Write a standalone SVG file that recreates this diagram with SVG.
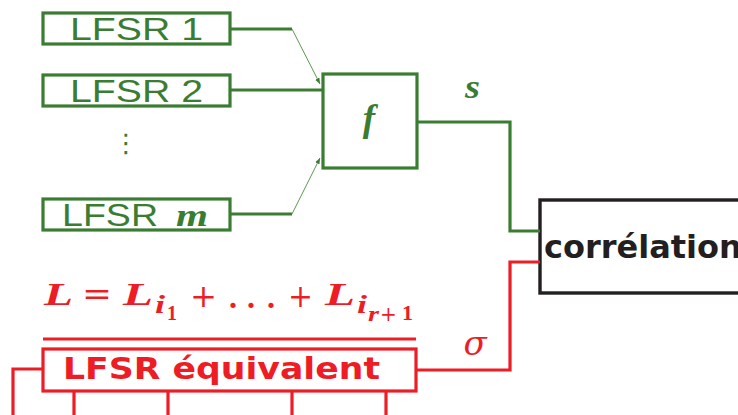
<svg xmlns="http://www.w3.org/2000/svg" width="738" height="415" viewBox="0 0 738 415">
<defs>
<style>
.g{fill:none;stroke:#3a7d32;stroke-width:3.2}
.gt{fill:none;stroke:#5a9a52;stroke-width:1}
.r{fill:none;stroke:#ee1c25;stroke-width:3.2}
.k{fill:none;stroke:#231f20;stroke-width:3.4}
.lf{font-family:"Liberation Sans",Arial,sans-serif;font-size:32px;fill:#3a7d32}
.mi{font-family:"Liberation Serif",serif;font-style:italic;font-weight:bold}
.op{font-family:"DejaVu Serif",serif;font-size:32px}
.rd{fill:#ee1c25}
</style>
<marker id="ah" viewBox="0 0 10 10" refX="10" refY="5" markerWidth="6" markerHeight="6" orient="auto" markerUnits="userSpaceOnUse">
<path d="M0,1 L10,5 L0,9 Z" fill="#3a7d32"/>
</marker>
</defs>
<rect width="738" height="415" fill="#fff"/>
<g id="lfsr1"><rect class="g" x="43" y="13" width="187" height="31"/><text class="lf" x="70" y="40" textLength="133" lengthAdjust="spacingAndGlyphs">LFSR 1</text></g>
<g id="lfsr2"><rect class="g" x="43" y="75" width="187" height="31"/><text class="lf" x="70" y="102" textLength="133" lengthAdjust="spacingAndGlyphs">LFSR 2</text></g>
<g id="dots"><text x="126" y="152" font-family="DejaVu Sans,sans-serif" font-size="26" fill="#3a7d32" text-anchor="middle">⋮</text></g>
<g id="lfsrm"><rect class="g" x="43" y="199" width="187" height="31"/><text class="lf" x="62" y="226" textLength="96" lengthAdjust="spacingAndGlyphs">LFSR</text><text class="mi" x="176" y="226" font-size="31" fill="#3a7d32" textLength="32" lengthAdjust="spacingAndGlyphs">m</text></g>
<g id="f"><rect class="g" x="323" y="74" width="94" height="94"/><text class="mi" x="369" y="131" font-size="37" fill="#3a7d32" text-anchor="middle">f</text></g>
<g id="correlation"><rect class="k" x="540" y="200" width="220" height="93"/><text x="544" y="258" font-family="DejaVu Sans,sans-serif" font-weight="bold" font-size="32" fill="#231f20">corrélation</text></g>
<g id="formula" class="rd">
<text class="mi" font-size="32" x="44" y="305" textLength="29" lengthAdjust="spacingAndGlyphs">L</text>
<text class="op" x="82" y="305" textLength="30" lengthAdjust="spacingAndGlyphs">=</text>
<text class="mi" font-size="32" x="123" y="305" textLength="30" lengthAdjust="spacingAndGlyphs">L</text>
<text class="mi" font-size="25" x="155" y="313" textLength="10" lengthAdjust="spacingAndGlyphs">i</text>
<text font-family="Liberation Serif,serif" font-weight="bold" font-size="20" x="167" y="320" textLength="10" lengthAdjust="spacingAndGlyphs">1</text>
<text class="op" x="190" y="307" textLength="27" lengthAdjust="spacingAndGlyphs">+</text>
<text font-family="Liberation Serif,serif" font-weight="bold" font-size="32" x="229 247 267" y="308">...</text>
<text class="op" x="288" y="307" textLength="25" lengthAdjust="spacingAndGlyphs">+</text>
<text class="mi" font-size="32" x="325" y="305" textLength="30" lengthAdjust="spacingAndGlyphs">L</text>
<text class="mi" font-size="25" x="357" y="313" textLength="10" lengthAdjust="spacingAndGlyphs">i</text>
<text class="mi" font-size="21" x="368" y="321" textLength="11" lengthAdjust="spacingAndGlyphs">r</text>
<text font-family="DejaVu Serif,serif" font-size="20" x="380" y="321">+</text>
<text font-family="Liberation Serif,serif" font-weight="bold" font-size="20" x="402" y="320" textLength="11" lengthAdjust="spacingAndGlyphs">1</text>
</g>
<g id="lfsreq"><line class="r" x1="43" y1="339" x2="416" y2="339"/><rect class="r" x="43" y="349" width="373" height="42"/><text x="63" y="379" font-family="DejaVu Sans,sans-serif" font-weight="bold" font-size="30" fill="#ee1c25" textLength="317" lengthAdjust="spacingAndGlyphs">LFSR équivalent</text></g>
<g id="s-label"><text class="mi" x="465" y="98" font-size="34" fill="#3a7d32" textLength="15" lengthAdjust="spacingAndGlyphs">s</text></g>
<g id="sigma-label"><text x="475" y="355" font-family="DejaVu Serif,serif" font-style="italic" font-size="34" fill="#ee1c25" text-anchor="middle">σ</text></g>
<g id="connectors">
<polyline class="g" points="230,29 292,29"/>
<line class="gt" x1="292" y1="29" x2="320" y2="84" marker-end="url(#ah)"/>
<polyline class="g" points="230,90 323,90"/>
<polyline class="g" points="230,214 292,214"/>
<line class="gt" x1="292" y1="214" x2="320" y2="158" marker-end="url(#ah)"/>
<polyline class="g" points="417,122 510,122 510,231 540,231"/>
<polyline class="r" points="540,262 510,262 510,370 416,370"/>
<polyline class="r" points="43,369 13,369 13,415"/>
<line class="r" x1="74" y1="391" x2="74" y2="415"/>
<line class="r" x1="168" y1="391" x2="168" y2="415"/>
<line class="r" x1="292" y1="391" x2="292" y2="415"/>
<line class="r" x1="386" y1="391" x2="386" y2="415"/>
</g>
</svg>
